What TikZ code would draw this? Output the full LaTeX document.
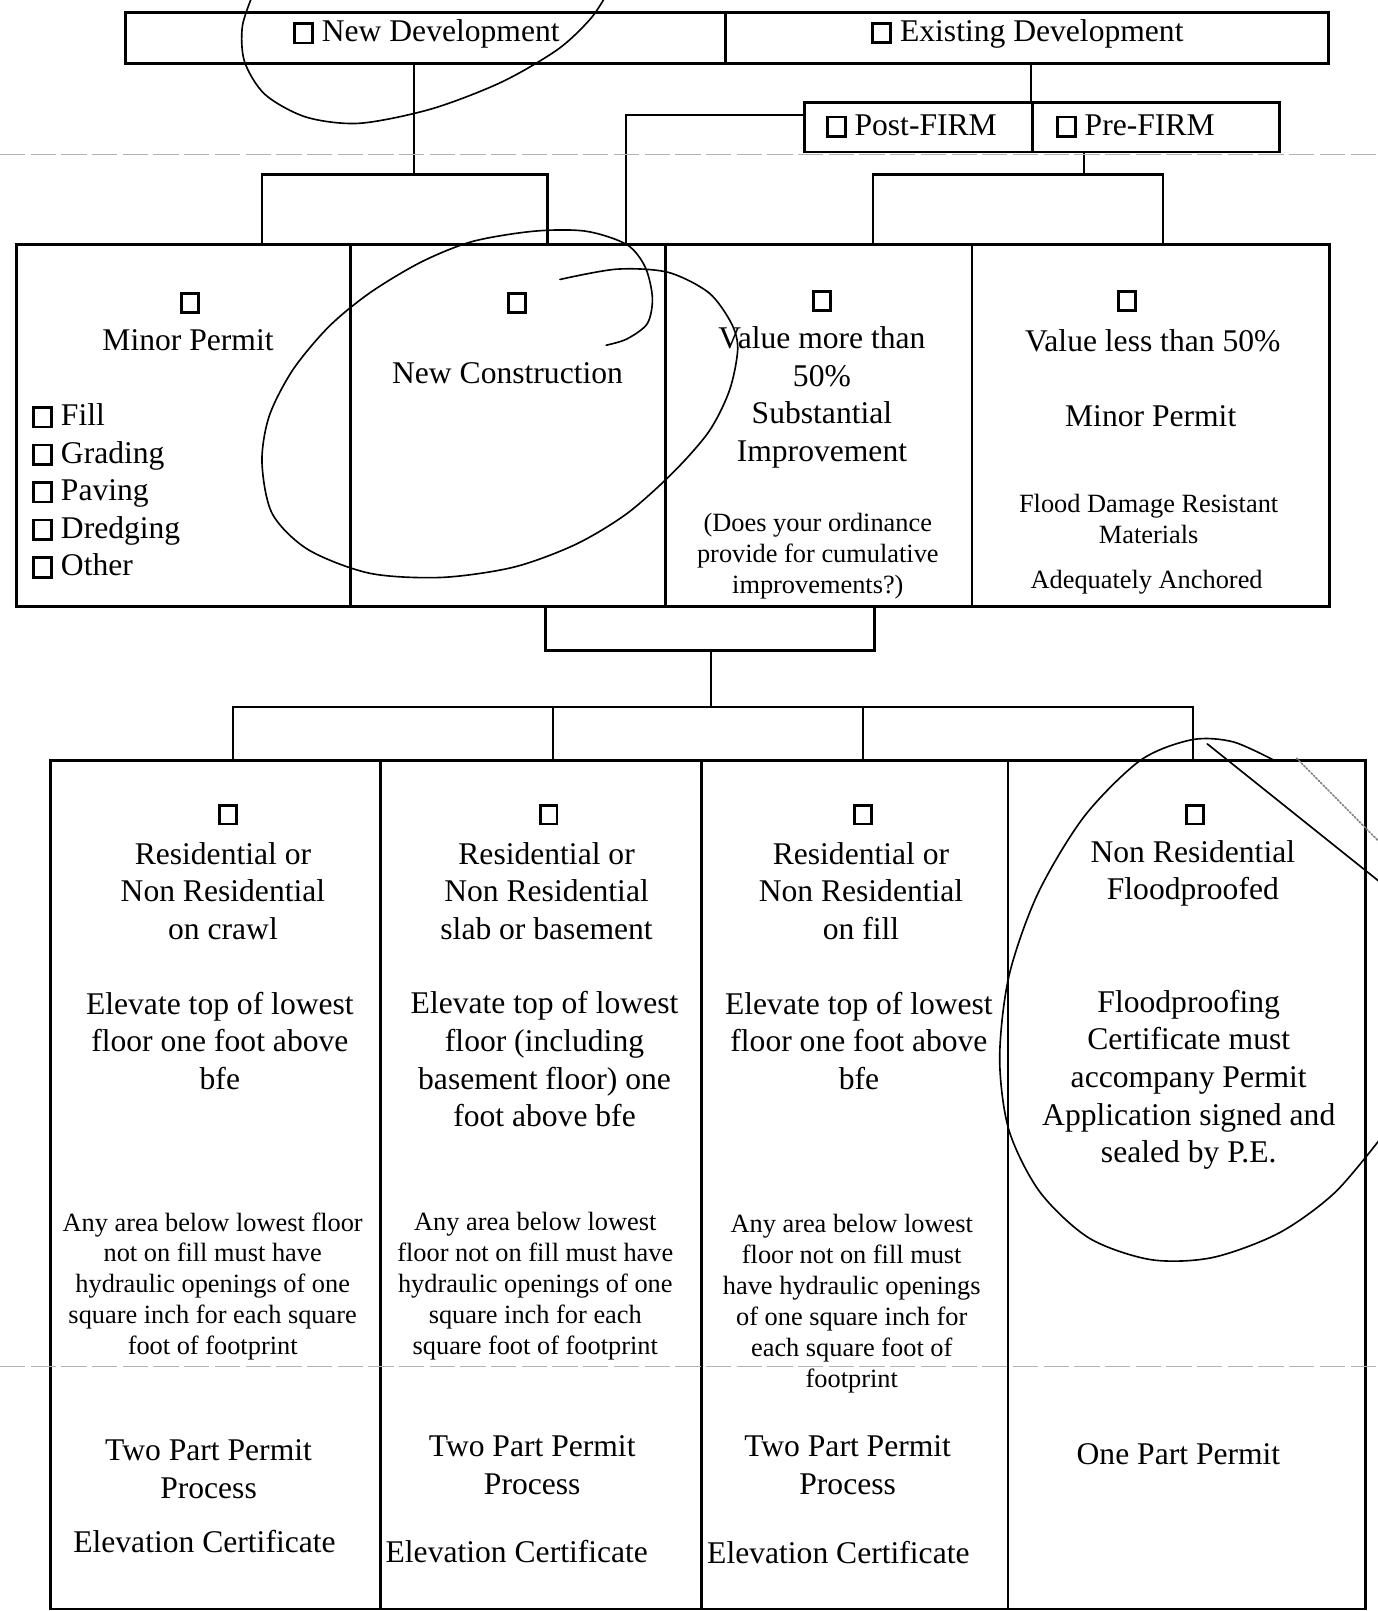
\documentclass[tikz,border=0pt]{standalone}
\usepackage{fontspec}
\setmainfont{Liberation Serif}
\usepackage{tikz}
\usetikzlibrary{
  positioning,
  fit,
  calc
}
\tikzstyle{cell}=[draw, line width=1.5pt, inner sep=0pt]
\tikzstyle{conn}=[line width=1.3pt]
\tikzstyle{lbl}=[font=\fontsize{17.5}{20.8}\selectfont, align=center, inner sep=0pt]
\tikzstyle{small}=[font=\fontsize{14.6}{17.1}\selectfont, align=center, inner sep=0pt]
\tikzstyle{chkbox}=[draw, line width=1.5pt, minimum width=3.3mm, minimum height=3.6mm, inner sep=0pt]
\tikzstyle{scribble}=[line width=0.9pt, line cap=round]
\tikzstyle{scanline}=[gray!60, line width=0.6pt, dash pattern=on 14pt off 3pt]
\newcommand{\chk}{{\setlength{\fboxsep}{0pt}\setlength{\fboxrule}{1.5pt}\fbox{\rule{0pt}{3.3mm}\hspace{3.0mm}}}}

\begin{document}
\begin{tikzpicture}[x=0.2mm, y=-0.2mm]
      \useasboundingbox (0,0) rectangle (1341,1568);

      % 上段の箱
      \node[cell, fit={(122,12) (706,62)}] (newdev) {};
      \node[cell, fit={(706,12) (1293,62)}] (exdev) {};
      \node[cell, fit={(783,100) (1005,148)}] (postfirm) {};
      \node[cell, fit={(1005,100) (1245,148)}] (prefirm) {};
      \node[lbl] (nd-t) at (415,33) {\chk\ New Development};
      \node[lbl] (ed-t) at (1000,33) {\chk\ Existing Development};
      \node[lbl] (pf-t) at (887,123) {\chk\ Post-FIRM};
      \node[lbl] (pr-t) at (1105,123) {\chk\ Pre-FIRM};

      % 中段の箱
      \node[cell, fit={(16,238) (341,590)}] (minor) {};
      \node[cell, fit={(341,238) (648,590)}] (newcon) {};
      \node[cell, fit={(648,238) (946,590)}] (valmore) {};
      \node[cell, fit={(946,238) (1294,590)}] (valless) {};

      % 下段の箱
      \node[cell, fit={(49,740) (370,1566)}] (crawl) {};
      \node[cell, fit={(370,740) (683,1566)}] (slab) {};
      \node[cell, fit={(683,740) (981,1566)}] (onfill) {};
      \node[cell, fit={(981,740) (1329,1566)}] (floodp) {};

      % 分岐点
      \coordinate (nd) at (403,170);
      \coordinate (ndl) at (255,170);
      \coordinate (ndr) at (533,170);
      \coordinate (pf) at (609,112);
      \coordinate (pr) at (1055,170);
      \coordinate (prl) at (850,170);
      \coordinate (prr) at (1132,170);
      \coordinate (ml) at (531,633);
      \coordinate (mr) at (851,633);
      \coordinate (mm) at (692,633);
      \coordinate (bm) at (692,688);
      \coordinate (bl) at (227,688);
      \coordinate (bs) at (538,688);
      \coordinate (bf) at (840,688);
      \coordinate (br) at (1161,688);

      % 上段から中段への線
      \draw[conn] (newdev.south -| nd) -- (nd);
      \draw[conn] (minor.north -| ndl) -- (ndl) -- (ndr) -- (newcon.north -| ndr);
      \draw[conn] (exdev.south -| prefirm.west) -- (prefirm.north west);
      \draw[conn] (postfirm.west |- pf) -- (pf) -- (valmore.north -| pf);
      \draw[conn] (prefirm.south -| pr) -- (pr);
      \draw[conn] (valmore.north -| prl) -- (prl) -- (prr) -- (valless.north -| prr);

      % 中段から下段への線
      \draw[conn] (newcon.south -| ml) -- (ml) -- (mr) -- (valmore.south -| mr);
      \draw[conn] (mm) -- (bm);
      \draw[conn] (crawl.north -| bl) -- (bl) -- (br) -- (floodp.north -| br);
      \draw[conn] (bs) -- (slab.north -| bs);
      \draw[conn] (bf) -- (onfill.north -| bf);

      % 中段の文字
      \node[chkbox] (c1) at (185,295) {};
      \node[lbl] (mp) at (183,331) {Minor Permit};
      \node[lbl, align=left, anchor=west] (mplist) at (31,478)
        {\chk\ Fill\\\chk\ Grading\\\chk\ Paving\\\chk\ Dredging\\\chk\ Other};
      \node[chkbox] (c2) at (503,295) {};
      \node[lbl] (nc) at (494,363) {New Construction};
      \node[chkbox] (c3) at (800,293) {};
      \node[lbl] (vm) at (800,387) {Value more than\\50\%\\Substantial\\Improvement};
      \node[small] (vmq) at (796,541) {(Does your ordinance\\provide for cumulative\\improvements?)};
      \node[chkbox] (c4) at (1097,293) {};
      \node[lbl] (vl) at (1122,332) {Value less than 50\%};
      \node[lbl] (vlp) at (1120,405) {Minor Permit};
      \node[small] (vlm) at (1118,505) {Flood Damage Resistant\\Materials};
      \node[small] (vla) at (1116,567) {Adequately Anchored};

      % 下段の文字
      \node[chkbox] (c5) at (222,793) {};
      \node[lbl] (r1) at (217,867) {Residential or\\Non Residential\\on crawl};
      \node[lbl] (e1) at (214,1013) {Elevate top of lowest\\floor one foot above\\bfe};
      \node[small] (a1) at (207,1252) {Any area below lowest floor\\not on fill must have\\hydraulic openings of one\\square inch for each square\\foot of footprint};
      \node[lbl] (p1) at (203,1430) {Two Part Permit\\Process};
      \node[lbl] (ec1) at (199,1500) {Elevation Certificate};

      \node[chkbox] (c6) at (534,793) {};
      \node[lbl] (r2) at (532,867) {Residential or\\Non Residential\\slab or basement};
      \node[lbl] (e2) at (530,1031) {Elevate top of lowest\\floor (including\\basement floor) one\\foot above bfe};
      \node[small] (a2) at (521,1252) {Any area below lowest\\floor not on fill must have\\hydraulic openings of one\\square inch for each\\square foot of footprint};
      \node[lbl] (p2) at (518,1426) {Two Part Permit\\Process};
      \node[lbl] (ec2) at (503,1510) {Elevation Certificate};

      \node[chkbox] (c7) at (840,793) {};
      \node[lbl] (r3) at (838,867) {Residential or\\Non Residential\\on fill};
      \node[lbl] (e3) at (836,1013) {Elevate top of lowest\\floor one foot above\\bfe};
      \node[small] (a3) at (829,1269) {Any area below lowest\\floor not on fill must\\have hydraulic openings\\of one square inch for\\each square foot of\\footprint};
      \node[lbl] (p3) at (825,1426) {Two Part Permit\\Process};
      \node[lbl] (ec3) at (816,1511) {Elevation Certificate};

      \node[chkbox] (c8) at (1163,793) {};
      \node[lbl] (r4) at (1161,850) {Non Residential\\Floodproofed};
      \node[lbl] (e4) at (1157,1051) {Floodproofing\\Certificate must\\accompany Permit\\Application signed and\\sealed by P.E.};
      \node[lbl] (p4) at (1147,1415) {One Part Permit};

      % スキャンの線
      \draw[scanline] (0,150) -- (1341,150);
      \draw[scanline] (0,1330) -- (1341,1330);

      % 手書きの丸
      \begin{scope}
        \clip (0,0) rectangle (1341,1568);
        \draw[scribble] plot[smooth] coordinates {(248,-10) (236,25) (238,60) (258,92) (298,114)
          (350,120) (420,106) (488,80) (543,48) (575,18) (592,-8)};
        \draw[scribble] plot[smooth] coordinates {(545,272) (600,262) (650,265) (690,285) (712,315)
          (718,340) (710,380) (690,420) (655,460) (610,500) (560,530) (500,552) (430,562)
          (360,558) (300,535) (265,500) (255,450) (262,405) (285,360) (320,318) (360,285)
          (410,255) (460,235) (520,225) (570,225) (610,238) (628,260) (635,290) (630,315)
          (610,330) (590,336)};
        \draw[scribble] plot[smooth] coordinates {(1350,1100) (1300,1160) (1245,1200) (1180,1224)
          (1120,1226) (1060,1205) (1012,1160) (982,1100) (973,1030) (982,950) (1010,870)
          (1055,795) (1110,740) (1160,720) (1200,722) (1240,740)};
        \draw[scribble] (1175,724) -- (1345,860);
        \draw[scribble, gray, densely dotted] (1262,738) -- (1345,822);
      \end{scope}
\end{tikzpicture}
\end{document}
